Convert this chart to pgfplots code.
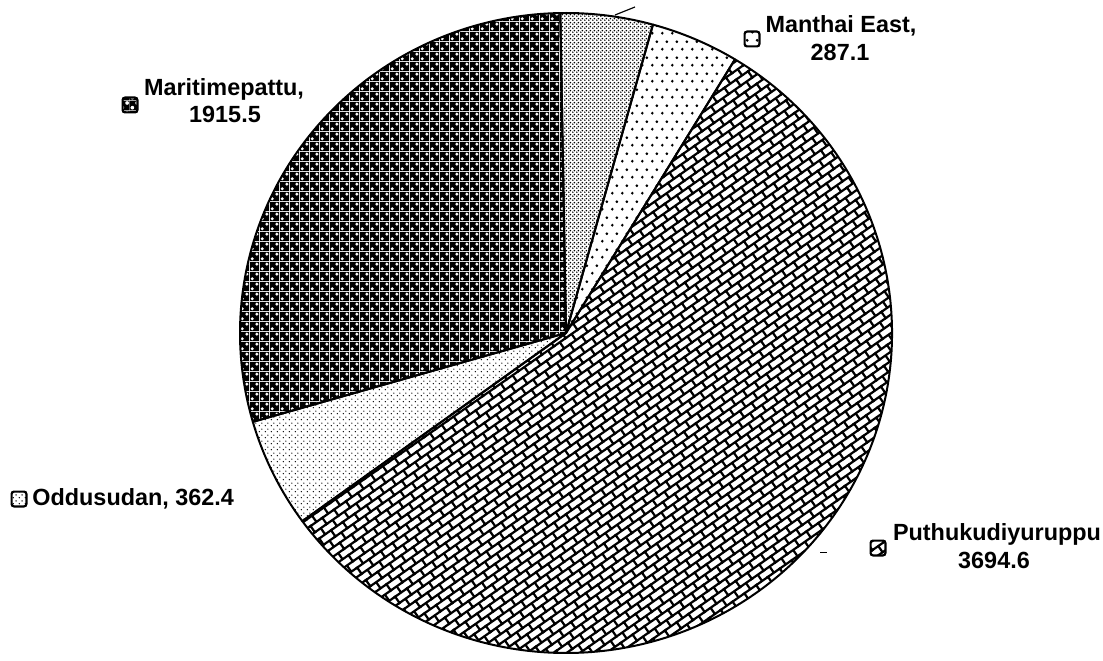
\documentclass[border=0pt]{standalone}
\usepackage{fontspec}
\setmainfont{Liberation Sans}
\usepackage{pgfplots}
\pgfplotsset{compat=1.18}
\usetikzlibrary{patterns,patterns.meta}

% patterns
\tikzdeclarepattern{name=pbricks, type=uncolored,
  bounding box={(-0.8pt,-0.8pt) and (8.0pt,8.4pt)},
  tile size={(7.2pt,7.6pt)},
  tile transformation={rotate=35},
  code={\draw[line width=1.1pt] (-0.8pt,0pt) -- (8.0pt,0pt) (-0.8pt,3.8pt) -- (8.0pt,3.8pt)
        (0pt,0pt) -- (0pt,3.8pt) (3.6pt,3.8pt) -- (3.6pt,7.6pt);}}
\tikzdeclarepattern{name=pchecker, type=uncolored,
  bounding box={(0pt,0pt) and (5pt,5pt)},
  tile size={(5pt,5pt)},
  code={\fill[even odd rule] (0pt,0pt) rectangle (5pt,5pt) (1.25pt,1.25pt) circle (1.05pt) (3.75pt,3.75pt) circle (1.05pt);}}
\tikzdeclarepattern{name=pdense, type=uncolored,
  bounding box={(0pt,0pt) and (2pt,2pt)},
  tile size={(2pt,2pt)},
  code={\fill (0.5pt,0.5pt) circle (0.52pt); \fill (1.5pt,1.5pt) circle (0.52pt);}}
\tikzdeclarepattern{name=psparse, type=uncolored,
  bounding box={(0pt,0pt) and (5pt,8pt)},
  tile size={(5pt,8pt)},
  code={\fill (1.25pt,2pt) circle (0.8pt); \fill (3.75pt,6pt) circle (0.8pt);}}
\tikzdeclarepattern{name=pfine, type=uncolored,
  bounding box={(0pt,0pt) and (3pt,3pt)},
  tile size={(3pt,3pt)},
  code={\fill (0.75pt,0.75pt) circle (0.42pt); \fill (2.25pt,2.25pt) circle (0.42pt);}}

% slice values (clockwise from top)
\def\vUnl{300}      % label cut off in the reference (estimated)
\def\vMan{287.1}
\def\vPut{3694.6}
\def\vOdd{362.4}
\def\vMar{1915.5}
\pgfmathsetmacro\T{\vUnl+\vMan+\vPut+\vOdd+\vMar}
\pgfmathsetmacro\aA{91}
\pgfmathsetmacro\aB{\aA-\vUnl/\T*360}
\pgfmathsetmacro\aC{\aB-\vMan/\T*360}
\pgfmathsetmacro\aD{\aC-\vPut/\T*360}
\pgfmathsetmacro\aE{\aD-\vOdd/\T*360}
\pgfmathsetmacro\aF{\aE-\vMar/\T*360}

\newcommand\slice[3]{%
  \filldraw[line width=1pt, line join=round, pattern=#3]
    (axis cs:566,327) -- ++(#1:163pt and 160pt)
    arc[start angle=#1, end angle=#2, x radius=163pt, y radius=160pt] -- cycle;}
\newcommand\icon[3]{%
  \filldraw[line width=1.1pt, rounded corners=1.2pt, pattern=#3]
    (axis cs:#1,#2) ++(-3.7pt,-3.7pt) rectangle ++(7.4pt,7.4pt);}

\begin{document}
\begin{tikzpicture}
\begin{axis}[
  x=0.5pt, y=0.5pt, xmin=0, xmax=1103, ymin=0, ymax=660,
  scale only axis, hide axis, clip=false]
  \path (axis cs:0,0) rectangle (axis cs:1103,660);
  \slice{\aA}{\aB}{pdense}
  \slice{\aB}{\aC}{psparse}
  \slice{\aC}{\aD}{pbricks}
  \slice{\aD}{\aE}{pfine}
  \slice{\aE}{\aF}{pchecker}
  \draw[line width=0.6pt] (axis cs:615,645) -- (axis cs:635,653);
  \draw[line width=0.5pt] (axis cs:820,108) -- (axis cs:827,108);
  \begin{scope}[every node/.style={inner sep=0pt, font=\bfseries\fontsize{11.7}{14}\selectfont}]
    \node[anchor=base] at (axis cs:224,564) {Maritimepattu,};
    \node[anchor=base] at (axis cs:225,537) {1915.5};
    \node[anchor=base] at (axis cs:841,627) {Manthai East,};
    \node[anchor=base] at (axis cs:840,599) {287.1};
    \node[anchor=base west] at (axis cs:32,155) {Oddusudan, 362.4};
    \node[anchor=base] at (axis cs:997,120) {Puthukudiyuruppu};
    \node[anchor=base] at (axis cs:994,92) {3694.6};
  \end{scope}
  \icon{130}{555}{pchecker}
  \icon{752}{621}{psparse}
  \icon{19}{161}{pfine}
  \icon{878}{112}{pbricks}
\end{axis}
\end{tikzpicture}
\end{document}
